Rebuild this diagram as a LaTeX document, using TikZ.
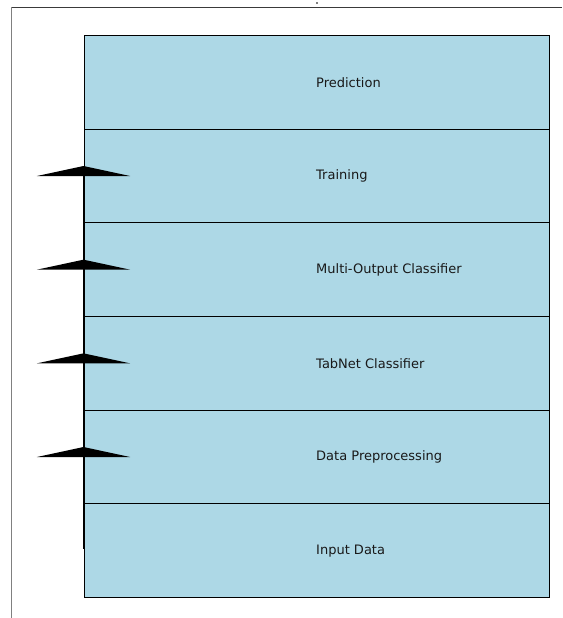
\documentclass[tikz,border=0pt]{standalone}
\usepackage{fontspec}
\setmainfont{DejaVu Sans}
\usetikzlibrary{arrows.meta}
\definecolor{layerfill}{HTML}{ADD8E6}
\definecolor{framegray}{HTML}{3A3A3A}
\tikzset{
  layerbox/.style={draw=black, line width=1pt, fill=layerfill, rectangle,
    minimum width=465pt, minimum height=93.67pt, inner sep=0pt, anchor=north west},
  layerlabel/.style={anchor=west, inner sep=0pt, font=\fontsize{13}{15}\selectfont, text=black!90},
  flowarrow/.style={line width=2pt, black,
    -{Triangle[width=93pt,length=10pt]}, shorten >=0pt}
}
\begin{document}
\begin{tikzpicture}[x=1pt,y=-1pt]
  \useasboundingbox (0,0) rectangle (562,618);
  % outer frame lines
  \draw[framegray, line width=1.4pt] (11.5,7.5) -- (562,7.5);
  \draw[gray, line width=1.4pt] (11.5,7.5) -- (11.5,618);
  \fill[gray] (315.5,2.5) rectangle (317.5,3.8);

  % stacked layers, top to bottom
  \node[layerbox] (pred)  at (83.5,35)      {};
  \node[layerbox] (train) at (83.5,128.67)  {};
  \node[layerbox] (moc)   at (83.5,222.33)  {};
  \node[layerbox] (tabnet) at (83.5,316)    {};
  \node[layerbox] (prep)  at (83.5,409.67)  {};
  \node[layerbox] (input) at (83.5,503.33)  {};

  \coordinate (labx) at (316,0);
  \node[layerlabel] (lpred)   at (pred.center -| labx)   {Prediction};
  \node[layerlabel] (ltrain)  at (train.center -| labx)  {Training};
  \node[layerlabel] (lmoc)    at (moc.center -| labx)    {Multi-Output Classifier};
  \node[layerlabel] (ltabnet) at (tabnet.center -| labx) {TabNet Classifier};
  \node[layerlabel] (lprep)   at (prep.center -| labx)   {Data Preprocessing};
  \node[layerlabel] (linput)  at (input.center -| labx)  {Input Data};

  % data flow arrows along the left edge (tips sit 10pt above each layer's middle)
  \coordinate (a0) at ([yshift=2pt]input.west);
  \coordinate (t1) at ([yshift=10pt]prep.west);
  \coordinate (t2) at ([yshift=10pt]tabnet.west);
  \coordinate (t3) at ([yshift=10pt]moc.west);
  \coordinate (t4) at ([yshift=10pt]train.west);
  \draw[flowarrow] (a0) -- (t1);
  \draw[flowarrow] (prep.west) -- (t2);
  \draw[flowarrow] (tabnet.west) -- (t3);
  \draw[flowarrow] (moc.west) -- (t4);
\end{tikzpicture}
\end{document}
